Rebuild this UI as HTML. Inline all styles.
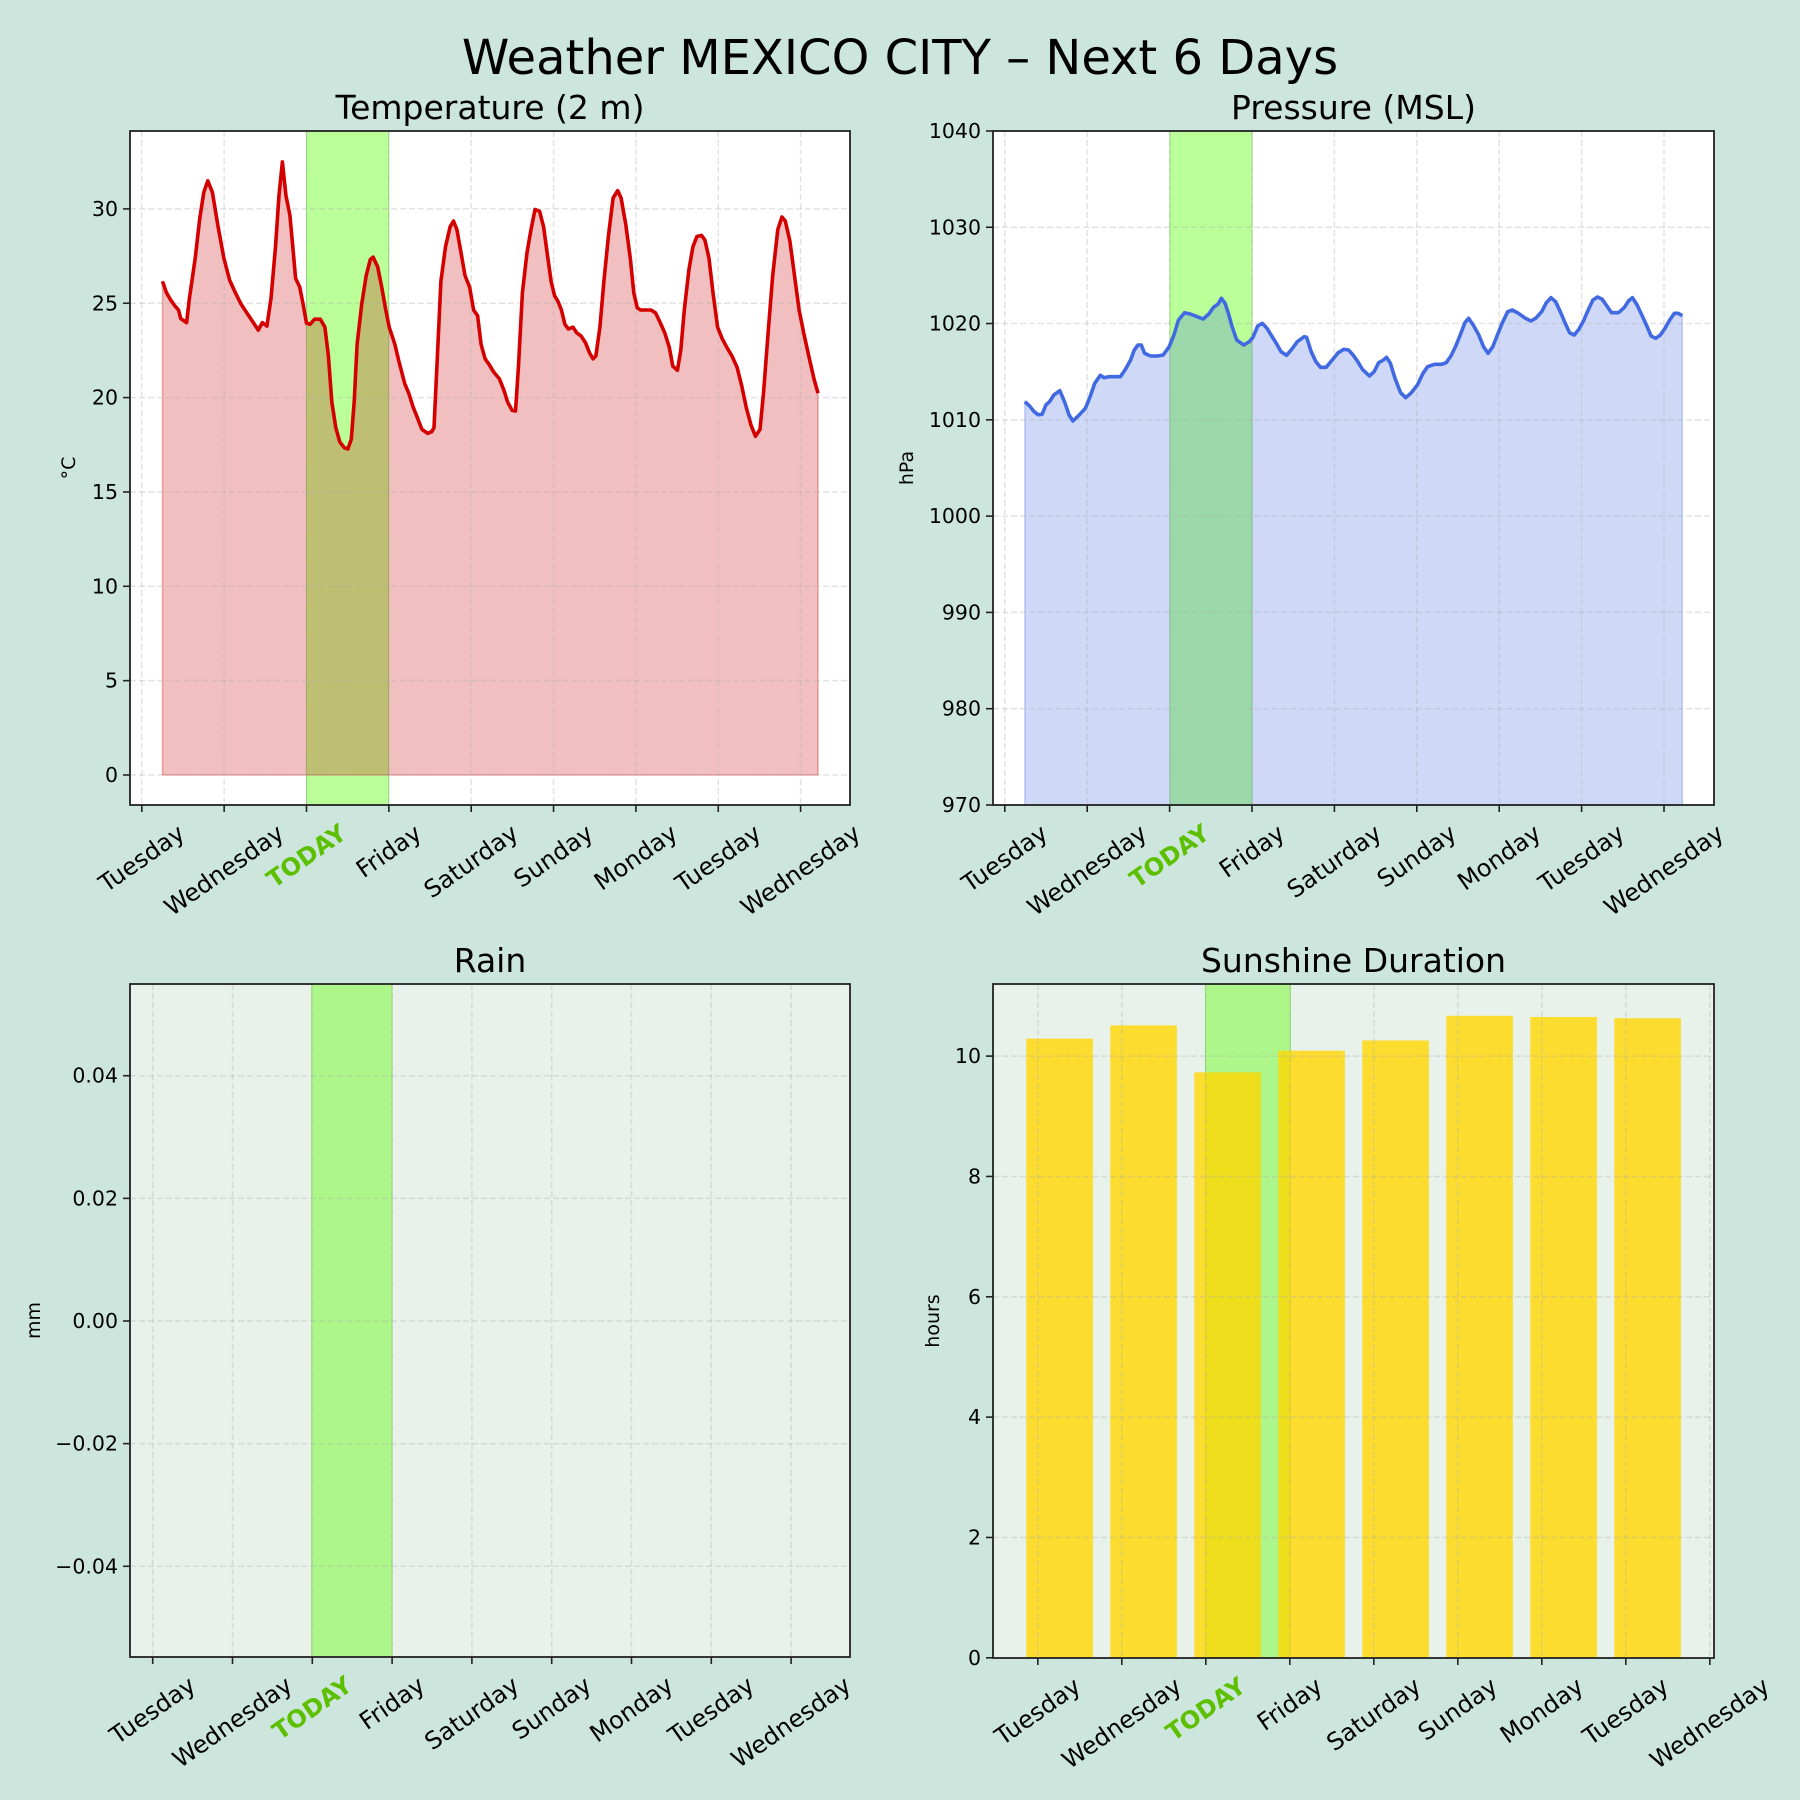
<!DOCTYPE html>
<html><head><meta charset="utf-8"><style>
html,body{margin:0;padding:0;background:#cde6dd;}
svg{display:block;font-family:"DejaVu Sans","Liberation Sans",sans-serif;}
</style></head><body>
<svg id="s" width="1800" height="1800" xmlns="http://www.w3.org/2000/svg">
<rect width="1800" height="1800" fill="#cde6dd"/>
<text x="900" y="74" font-size="48" text-anchor="middle" fill="#000">Weather MEXICO CITY – Next 6 Days</text>
<text x="490" y="119" font-size="33" text-anchor="middle">Temperature (2 m)</text>
<text x="1353.5" y="119" font-size="33" text-anchor="middle">Pressure (MSL)</text>
<text x="490" y="972" font-size="33" text-anchor="middle">Rain</text>
<text x="1353.5" y="972" font-size="33" text-anchor="middle">Sunshine Duration</text>
<g id="g"></g>
</svg>
<script>
const NS="http://www.w3.org/2000/svg";
const G=document.getElementById('g');
function el(t,a,p,txt){const e=document.createElementNS(NS,t);for(const k in a)e.setAttribute(k,a[k]);if(txt!==undefined)e.textContent=txt;(p||G).appendChild(e);return e;}
const days=["Tuesday","Wednesday","TODAY","Friday","Saturday","Sunday","Monday","Tuesday","Wednesday"];
const panels=[
 {x0:130,x1:850,y0:131,y1:805,bg:"#ffffff",band:[306.5,388.6],bandc:"#bbff99",tx:i=>141.8+82.35*i,
  yt:[0,5,10,15,20,25,30].map(v=>[775-v*18.87,String(v)]),yl:"°C",ylx:69},
 {x0:993,x1:1714,y0:131,y1:805,bg:"#ffffff",band:[1170,1252],bandc:"#bbff99",tx:i=>1004.8+82.4*i,
  yt:[970,980,990,1000,1010,1020,1030,1040].map(v=>[805-(v-970)*9.629,String(v)]),yl:"hPa",ylx:907},
 {x0:130,x1:850,y0:984,y1:1657,bg:"#e8f1ea",band:[311.7,392],bandc:"#adf78a",tx:i=>152.7+79.8*i,
  yt:[-0.04,-0.02,0,0.02,0.04].map(v=>[1321-v*6132,(v<0?"−":"")+Math.abs(v).toFixed(2)]),yl:"mm",ylx:34},
 {x0:993,x1:1714,y0:984,y1:1658,bg:"#e8f1ea",band:[1205.4,1290.4],bandc:"#adf78a",tx:i=>1037.8+84*i,
  yt:[0,2,4,6,8,10].map(v=>[1657.8-v*60.17,String(v)]),yl:"hours",ylx:933}
];
const T=[[283,490],[290,510],[297,522],[304,532],[311,540],[315,555],[325,562],[330,520],[340,450],[348,380],[355,335],[362,315],[370,335],[380,395],[390,450],[400,488],[410,510],[420,530],[430,545],[440,560],[450,575],[457,562],[465,568],[472,520],[480,430],[486,340],[492,282],[498,340],[505,375],[510,430],[515,485],[522,500],[528,530],[534,563],[540,565],[548,556],[558,556],[566,570],[572,620],[578,700],[585,745],[592,770],[600,780],[606,782],[612,765],[617,700],[622,600],[630,530],[638,480],[645,452],[650,448],[658,465],[665,500],[672,540],[678,570],[688,600],[695,630],[705,668],[712,685],[720,710],[726,725],[735,748],[745,755],[752,752],[756,745],[762,620],[768,490],[776,430],[784,395],[790,385],[796,400],[803,440],[810,480],[818,500],[825,540],[832,550],[838,600],[845,625],[852,635],[860,648],[870,660],[878,680],[884,700],[892,715],[898,716],[903,640],[910,510],[918,440],[925,400],[932,365],[940,368],[947,395],[953,440],[960,490],[966,515],[972,525],[978,540],[984,565],[990,573],[998,570],[1005,580],[1012,585],[1020,597],[1027,615],[1033,625],[1038,620],[1045,570],[1052,490],[1060,410],[1068,345],[1076,332],[1082,345],[1090,390],[1098,450],[1104,510],[1110,536],[1116,540],[1124,540],[1134,540],[1142,545],[1150,562],[1158,580],[1166,605],[1172,638],[1180,645],[1186,610],[1192,540],[1200,470],[1207,430],[1214,412],[1222,410],[1228,418],[1235,450],[1242,510],[1250,570],[1258,590],[1266,605],[1275,620],[1284,640],[1292,672],[1300,710],[1308,740],[1316,760],[1324,748],[1330,685],[1338,580],[1346,480],[1355,400],[1362,378],[1368,385],[1376,420],[1384,480],[1392,540],[1400,580],[1410,625],[1418,660],[1425,685]];
const P=[[75,455],[85,468],[95,485],[103,494],[112,493],[120,465],[128,455],[137,435],[150,422],[160,455],[170,495],[178,513],[190,497],[205,475],[215,440],[225,400],[237,376],[245,383],[255,380],[265,380],[280,380],[290,360],[302,330],[310,300],[318,285],[325,285],[332,310],[345,318],[360,318],[372,315],[385,290],[395,255],[405,210],[418,188],[430,192],[445,200],[458,207],[470,192],[480,172],[490,162],[497,145],[505,160],[512,190],[520,230],[530,270],[545,285],[557,275],[565,262],[575,228],[585,220],[595,235],[605,258],[615,280],[625,305],[637,316],[648,298],[660,275],[675,260],[680,262],[690,305],[700,335],[710,352],[722,352],[735,330],[748,308],[760,298],[770,300],[780,315],[790,335],[800,358],[815,378],[825,365],[835,338],[845,330],[852,322],[860,340],[870,385],[882,428],[893,443],[905,428],[918,405],[930,370],[940,350],[955,343],[970,343],[980,338],[990,318],[1000,290],[1010,255],[1020,218],[1028,205],[1038,225],[1050,255],[1060,290],[1070,310],[1080,290],[1090,255],[1100,220],[1112,185],[1122,180],[1135,190],[1150,205],[1162,213],[1172,205],[1185,185],[1195,158],[1205,143],[1215,155],[1225,185],[1235,218],[1245,248],[1255,255],[1265,238],[1275,212],[1285,180],[1295,150],[1305,141],[1315,148],[1325,168],[1335,188],[1350,188],[1362,173],[1372,152],[1380,143],[1390,165],[1400,195],[1410,225],[1420,258],[1430,265],[1440,255],[1450,235],[1460,210],[1470,190],[1478,190],[1487,197]];
const Tp=T.map(p=>[p[0]/1.742,p[1]/1.742]);
const Pp=P.map(p=>[p[0]/2.148+990,p[1]/3+250]);
const ps=a=>a.map(p=>p[0].toFixed(1)+","+p[1].toFixed(1)).join(" ");
const sun=[10.29,10.51,9.73,10.09,10.26,10.67,10.65,10.63];

panels.forEach((p,pi)=>{
  const w=p.x1-p.x0,h=p.y1-p.y0;
  el('rect',{x:p.x0,y:p.y0,width:w,height:h,fill:p.bg});
  el('rect',{x:p.band[0],y:p.y0,width:p.band[1]-p.band[0],height:h,fill:p.bandc});
  el('line',{x1:p.band[0],x2:p.band[0],y1:p.y0,y2:p.y1,stroke:"#8fe070","stroke-width":1});
  el('line',{x1:p.band[1],x2:p.band[1],y1:p.y0,y2:p.y1,stroke:"#8fe070","stroke-width":1});
  if(pi==0){
    const f=Tp.concat([[Tp[Tp.length-1][0],775],[Tp[0][0],775]]);
    el('polygon',{points:ps(f),fill:"rgba(200,0,0,0.25)",stroke:"rgba(200,0,0,0.3)","stroke-width":1.5});
  }
  if(pi==1){
    const f=Pp.concat([[Pp[Pp.length-1][0],805],[Pp[0][0],805]]);
    el('polygon',{points:ps(f),fill:"rgba(65,105,225,0.25)",stroke:"rgba(65,105,225,0.3)","stroke-width":1.5});
  }
  if(pi==3){
    sun.forEach((v,i)=>{const cx=p.tx(i)+21.8;const yt=1657.8-v*60.17;
      el('rect',{x:cx-33.3,y:yt,width:66.6,height:1657.8-yt,fill:"rgba(255,215,0,0.8)"});});
  }
  for(let i=0;i<9;i++){const x=p.tx(i);
    el('line',{x1:x,x2:x,y1:p.y0,y2:p.y1,stroke:"rgba(176,176,176,0.35)","stroke-width":1.5,"stroke-dasharray":"6,3"});}
  p.yt.forEach(t=>{el('line',{x1:p.x0,x2:p.x1,y1:t[0],y2:t[0],stroke:"rgba(176,176,176,0.35)","stroke-width":1.5,"stroke-dasharray":"6,3"});});
  if(pi==0) el('polyline',{points:ps(Tp),fill:"none",stroke:"#d40000","stroke-width":3.6,"stroke-linejoin":"round"});
  if(pi==1) el('polyline',{points:ps(Pp),fill:"none",stroke:"#4169e1","stroke-width":3.6,"stroke-linejoin":"round"});
  el('rect',{x:p.x0,y:p.y0,width:w,height:h,fill:"none",stroke:"#222","stroke-width":1.8});
  p.yt.forEach(t=>{
    el('line',{x1:p.x0-7,x2:p.x0,y1:t[0],y2:t[0],stroke:"#222","stroke-width":1.6});
    el('text',{x:p.x0-12,y:t[0],"font-size":20.5,"text-anchor":"end","dominant-baseline":"central"},undefined,t[1]);
  });
  const cy=(p.y0+p.y1)/2;
  el('text',{x:p.ylx,y:cy,"font-size":19,"text-anchor":"middle","dominant-baseline":"central",transform:`rotate(-90 ${p.ylx} ${cy})`},undefined,p.yl);
  for(let i=0;i<9;i++){const x=p.tx(i);
    el('line',{x1:x,x2:x,y1:p.y1,y2:p.y1+7,stroke:"#222","stroke-width":1.6});
    const today=days[i]=="TODAY";
    const F=24;
    const t=el('text',{x:x,y:0,"font-size":F,"text-anchor":"middle","dominant-baseline":"central",
      fill:today?"#5cbf00":"#000","font-weight":today?"bold":"normal"},undefined,days[i]);
    const L=t.getComputedTextLength();
    const hh=F*1.16;
    const H=L*Math.sin(35*Math.PI/180)+hh*Math.cos(35*Math.PI/180);
    const yc=p.y1+14+H/2;
    t.setAttribute('y',yc);
    t.setAttribute('transform',`rotate(-35 ${x} ${yc})`);
  }
});
</script>
</body></html>
